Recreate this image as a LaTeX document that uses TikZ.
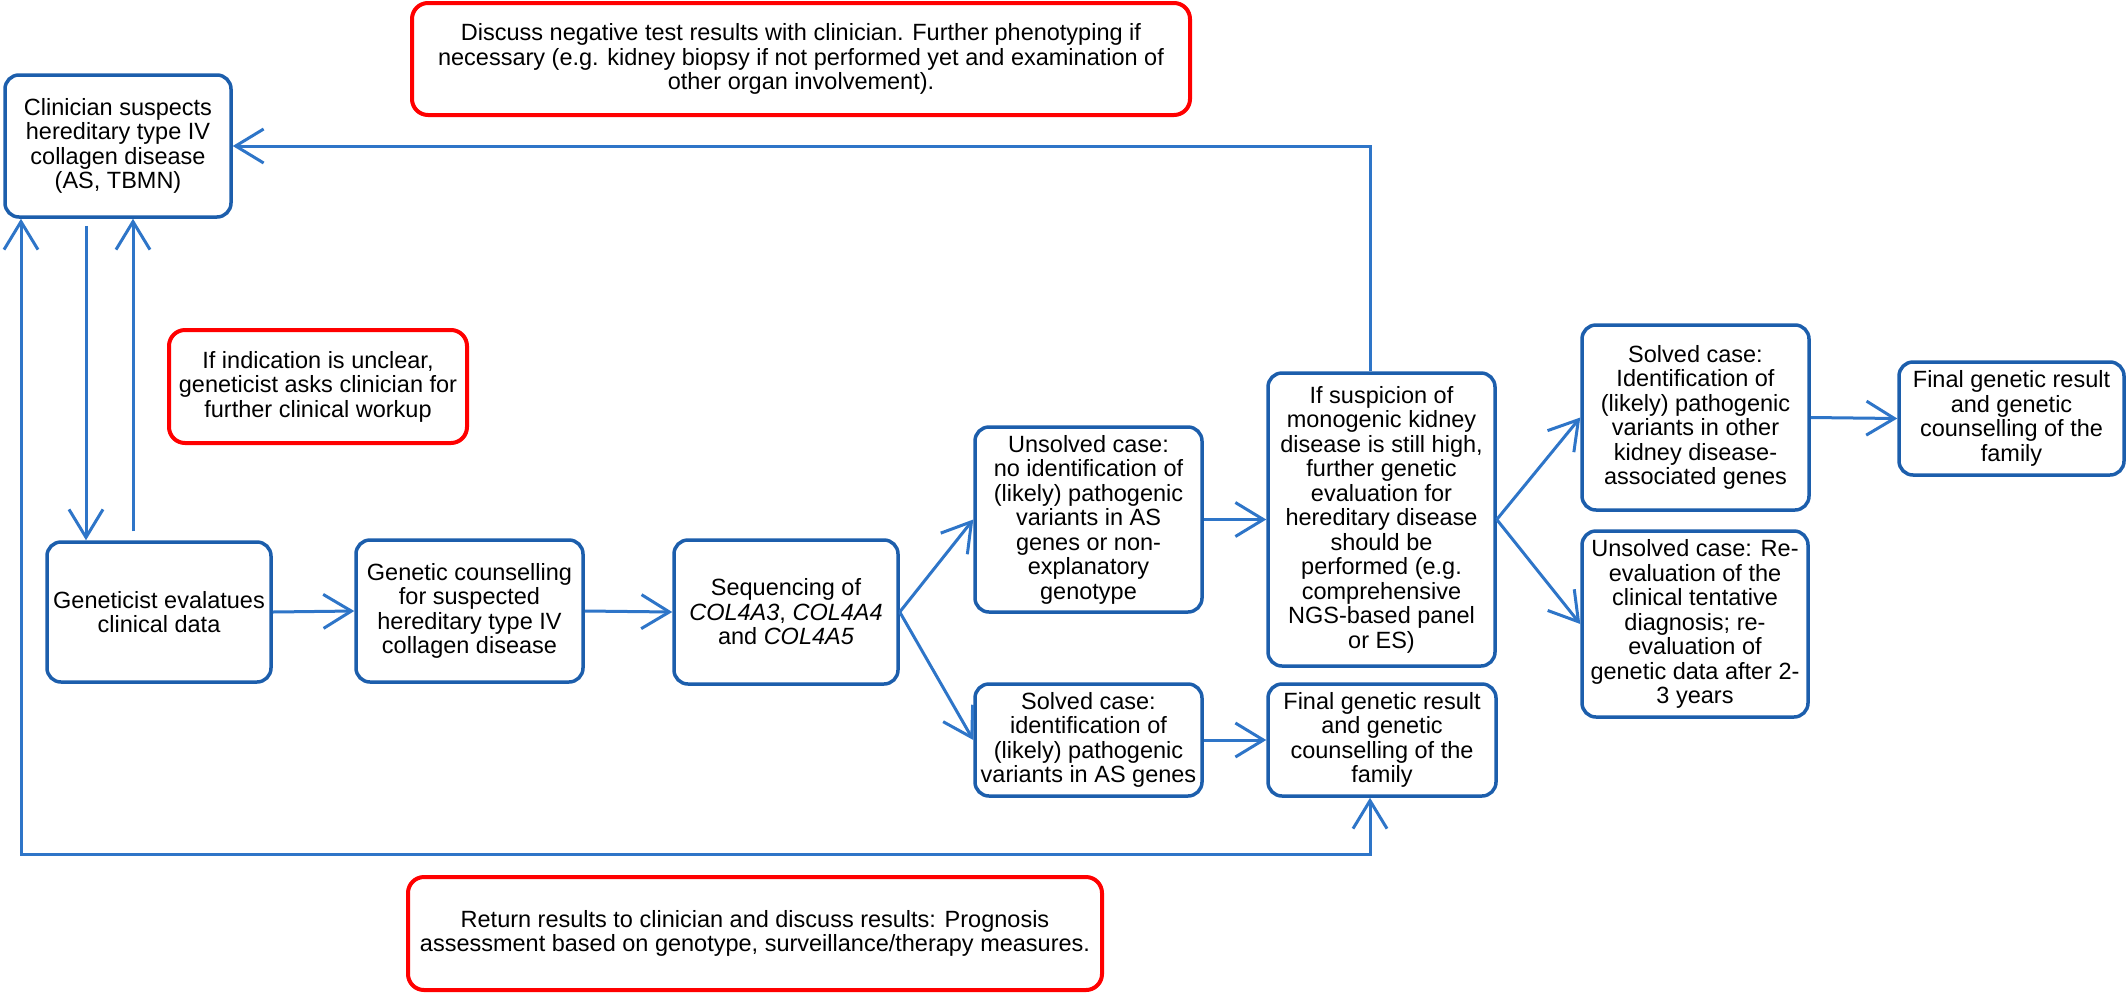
\documentclass[tikz,border=0pt]{standalone}
\usepackage{fontspec}
\setmainfont{Liberation Sans}
\usetikzlibrary{arrows.meta}
\definecolor{boxblue}{RGB}{28,94,172}
\definecolor{arrowblue}{RGB}{46,117,200}
\definecolor{redline}{RGB}{255,0,0}
\begin{document}
\begin{tikzpicture}[x=1pt,y=-1pt,
  barb/.tip={Straight Barb[length=28pt,width=34pt]},
  every node/.style={font=\fontsize{23.5}{24.5}\selectfont},
  bbox/.style={draw=boxblue, line width=3.5pt, rounded corners=14pt, align=center, inner sep=3pt},
  rbox/.style={draw=redline, line width=4pt, rounded corners=16pt, align=center, inner sep=3pt},
  conn/.style={draw=arrowblue, line width=3pt, -barb},
  conntwo/.style={draw=arrowblue, line width=3pt, barb-barb},
]
\useasboundingbox (0,0) rectangle (2128,994);

% blue boxes
\node[bbox, minimum width=226pt, minimum height=142pt] (clin) at (118,146)
  {Clinician suspects\\hereditary type IV\\collagen disease\\(AS, TBMN)};
\node[bbox, minimum width=224pt, minimum height=140pt] (gen) at (159,612)
  {Geneticist evalatues\\clinical data};
\node[bbox, minimum width=227pt, minimum height=142pt] (coun) at (469.5,611)
  {Genetic counselling\\for suspected\\hereditary type IV\\collagen disease};
\node[bbox, minimum width=224pt, minimum height=144pt] (seq) at (786,612)
  {Sequencing of\\\textit{COL4A3}, \textit{COL4A4}\\and \textit{COL4A5}};
\node[bbox, minimum width=227pt, minimum height=185pt] (uns) at (1088.5,519.5)
  {Unsolved case:\\no identification of\\(likely) pathogenic\\variants in AS\\genes or non-\\explanatory\\genotype};
\node[bbox, minimum width=227pt, minimum height=112pt] (sol) at (1088.5,740)
  {Solved case:\\identification of\\(likely) pathogenic\\variants in AS genes};
\node[bbox, minimum width=227pt, minimum height=293pt] (ifs) at (1381.5,519.5)
  {If suspicion of\\monogenic kidney\\disease is still high,\\further genetic\\evaluation for\\hereditary disease\\should be\\performed (e.g.\\comprehensive\\NGS-based panel\\or ES)};
\node[bbox, minimum width=228pt, minimum height=112pt] (fina) at (1382,740)
  {Final genetic result\\and genetic\\counselling of the\\family};
\node[bbox, minimum width=227pt, minimum height=185pt] (solo) at (1695.5,417.5)
  {Solved case:\\Identification of\\(likely) pathogenic\\variants in other\\kidney disease-\\associated genes};
\node[bbox, minimum width=226pt, minimum height=186pt] (unsr) at (1695,624)
  {Unsolved case: Re-\\evaluation of the\\clinical tentative\\diagnosis; re-\\evaluation of\\genetic data after 2-\\3 years};
\node[bbox, minimum width=225pt, minimum height=113pt] (finb) at (2011.5,418.5)
  {Final genetic result\\and genetic\\counselling of the\\family};

% red boxes
\node[rbox, minimum width=778pt, minimum height=112pt] (rtop) at (801,59)
  {Discuss negative test results with clinician. Further phenotyping if\\necessary (e.g. kidney biopsy if not performed yet and examination of\\other organ involvement).};
\node[rbox, minimum width=298pt, minimum height=113pt] (rmid) at (318,386.5)
  {If indication is unclear,\\geneticist asks clinician for\\further clinical workup};
\node[rbox, minimum width=694pt, minimum height=113pt] (rbot) at (755,933.5)
  {Return results to clinician and discuss results: Prognosis\\assessment based on genotype, surveillance/therapy measures.};

% helper coordinates
\coordinate (topR) at (1370,146);
\coordinate (dn) at (86,0);
\coordinate (up) at (133,0);
\coordinate (lowL) at (21,854);
\coordinate (lowR) at (1370,854);

% connectors
\draw[conn] (ifs.north -| topR) -- (topR) -- (clin.east);
\draw[conn, shorten <=7pt] (clin.south -| dn) -- (gen.north -| dn);
\draw[conn, shorten <=9pt] (gen.north -| up) -- (clin.south -| up);
\draw[conntwo] (clin.south -| lowL) -- (lowL) -- (lowR) -- (fina.south -| lowR);
\draw[conn] (gen.east) -- (coun.west);
\draw[conn] (coun.east) -- (seq.west);
\draw[conn] (seq.east) -- (uns.west);
\draw[conn] (seq.east) -- (sol.west);
\draw[conn] (uns.east) -- (ifs.west);
\draw[conn] (sol.east) -- (fina.west);
\draw[conn] (ifs.east) -- (solo.west);
\draw[conn] (ifs.east) -- (unsr.west);
\draw[conn] (solo.east) -- (finb.west);
\end{tikzpicture}
\end{document}
